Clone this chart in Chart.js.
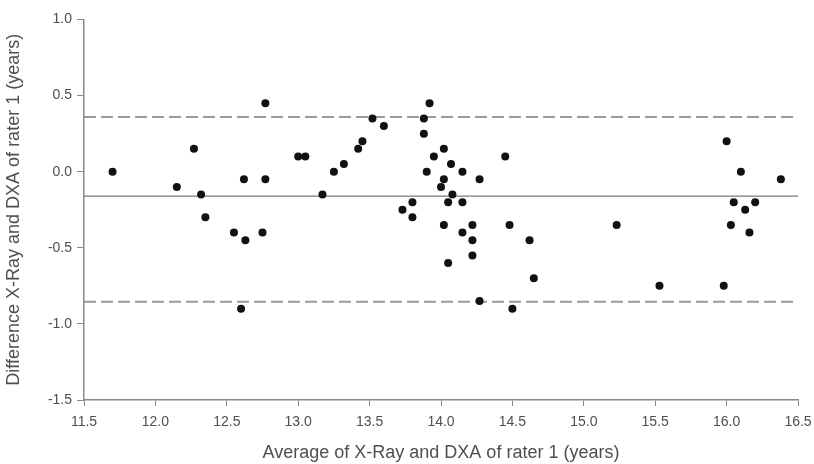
<!DOCTYPE html>
<html>
<head>
<meta charset="utf-8">
<script src="https://cdn.jsdelivr.net/npm/chart.js@4"></script>
<style>
    html, body { margin: 0; padding: 0; background: #fff; }
    #wrap { width: 814px; height: 464px; }
</style>
</head>
<body>
<div id="wrap"><canvas id="myChart" width="814" height="464"></canvas></div>
<script>
// average of the two methods (years)
const avgVals = [11.70, 12.15, 12.27, 12.32, 12.35, 12.55, 12.60, 12.62, 12.63, 12.75,
    12.77, 12.77, 13.00, 13.05, 13.17, 13.25, 13.32, 13.42, 13.45, 13.52,
    13.60, 13.73, 13.80, 13.80, 13.88, 13.88, 13.90, 13.92, 13.95, 14.00,
    14.02, 14.02, 14.02, 14.05, 14.05, 14.07, 14.08, 14.15, 14.15, 14.15,
    14.22, 14.22, 14.22, 14.27, 14.27, 14.45, 14.48, 14.50, 14.62, 14.65,
    15.23, 15.53, 15.98, 16.00, 16.03, 16.05, 16.10, 16.13, 16.16, 16.20, 16.38]
// difference X-Ray - DXA (years)
const diffVals = [0.00, -0.10, 0.15, -0.15, -0.30, -0.40, -0.90, -0.05, -0.45, -0.40,
    -0.05, 0.45, 0.10, 0.10, -0.15, 0.00, 0.05, 0.15, 0.20, 0.35,
    0.30, -0.25, -0.20, -0.30, 0.35, 0.25, 0.00, 0.45, 0.10, -0.10,
    0.15, -0.05, -0.35, -0.20, -0.60, 0.05, -0.15, 0.00, -0.20, -0.40,
    -0.35, -0.45, -0.55, -0.05, -0.85, 0.10, -0.35, -0.90, -0.45, -0.70,
    -0.35, -0.75, -0.75, 0.20, -0.35, -0.20, 0.00, -0.25, -0.40, -0.20, -0.05]

const meanDiff = -0.16
const upperLimit = 0.36
const lowerLimit = -0.855

const xRange = [11.5, 16.5]
const yRange = [-1.5, 1.0]
const xTickStep = 0.5
const yTickStep = 0.5

const xTitle = 'Average of X-Ray and DXA of rater 1 (years)'
const yTitle = 'Difference X-Ray and DXA of rater 1 (years)'

document.addEventListener('DOMContentLoaded', function() {
    let points = []
    for (var i = 0; i < avgVals.length; i++) {
        points.push({ x: avgVals[i], y: diffVals[i] })
    }

    const hline = (val) => [{ x: xRange[0], y: val }, { x: xRange[1], y: val }]

    const axisColor = '#8a8a8a'
    const textColor = '#4f4f4f'
    const fontFamily = 'Liberation Sans, Arial, sans-serif'

    const config = {
        type: 'scatter',
        data: {
            datasets: [{
                label: 'differences',
                data: points,
                pointRadius: 4,
                pointBackgroundColor: '#111111',
                pointBorderColor: '#111111',
                pointBorderWidth: 0,
                order: 0,
            }, {
                type: 'line',
                label: 'mean',
                data: hline(meanDiff),
                borderColor: '#7a7a7a',
                borderWidth: 1.2,
                pointRadius: 0,
                order: 1,
            }, {
                type: 'line',
                label: 'upper',
                data: hline(upperLimit),
                borderColor: '#9a9a9a',
                borderWidth: 2,
                borderDash: [12, 5],
                pointRadius: 0,
                order: 1,
            }, {
                type: 'line',
                label: 'lower',
                data: hline(lowerLimit),
                borderColor: '#9a9a9a',
                borderWidth: 2,
                borderDash: [12, 5],
                pointRadius: 0,
                order: 1,
            }]
        },
        options: {
            responsive: false,
            animation: false,
            layout: {
                padding: { top: 19.5, right: 16, left: 0, bottom: 0 }
            },
            plugins: {
                legend: { display: false },
                tooltip: { enabled: false },
            },
            scales: {
                x: {
                    type: 'linear',
                    min: xRange[0],
                    max: xRange[1],
                    afterFit: function(scale) {
                        scale.height = 64
                        scale.paddingLeft = 0
                        scale.paddingRight = 0
                    },
                    ticks: {
                        stepSize: xTickStep,
                        color: textColor,
                        padding: 8,
                        font: { family: fontFamily, size: 14 },
                        callback: function(value) { return value.toFixed(1) },
                    },
                    grid: {
                        drawOnChartArea: false,
                        drawTicks: true,
                        tickLength: 6,
                        tickColor: axisColor,
                    },
                    border: { color: axisColor, width: 1.5 },
                    title: {
                        display: true,
                        text: xTitle,
                        color: textColor,
                        padding: { top: 0, bottom: 0 },
                        font: { family: fontFamily, size: 18 },
                    },
                },
                y: {
                    type: 'linear',
                    min: yRange[0],
                    max: yRange[1],
                    afterFit: function(scale) {
                        scale.width = 84
                        scale.paddingTop = 0
                        scale.paddingBottom = 0
                    },
                    ticks: {
                        stepSize: yTickStep,
                        color: textColor,
                        padding: 5,
                        font: { family: fontFamily, size: 14 },
                        callback: function(value) { return value.toFixed(1) },
                    },
                    grid: {
                        drawOnChartArea: false,
                        drawTicks: true,
                        tickLength: 7,
                        tickColor: axisColor,
                    },
                    border: { color: axisColor, width: 1.5 },
                    title: {
                        display: true,
                        text: yTitle,
                        color: textColor,
                        padding: { top: 3, bottom: 0 },
                        font: { family: fontFamily, size: 18 },
                    },
                },
            },
        },
    }

    let canvas = document.getElementById('myChart')
    canvas.chart_instance = new Chart(canvas.getContext('2d'), config)
})
</script>
</body>
</html>
